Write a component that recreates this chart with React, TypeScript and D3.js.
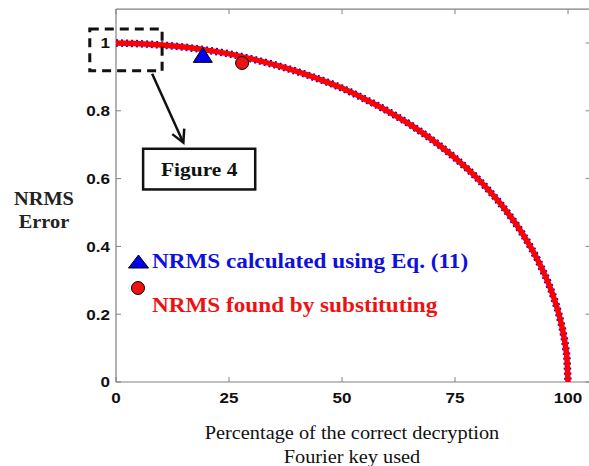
import React from "react";
import * as d3 from "d3";

// ---- data ----
const percentKey = [0, 5, 10, 15, 20, 25, 30, 35, 40, 45, 50, 55, 60, 65, 70, 75, 80, 85, 88, 90, 92, 94, 96, 97, 98, 99, 99.5, 99.8, 100];
const nrmsValues = [1.0, 0.998, 0.994, 0.988, 0.979, 0.968, 0.953, 0.936, 0.916, 0.893, 0.867, 0.835, 0.8, 0.76, 0.714, 0.661, 0.6, 0.527, 0.475, 0.436, 0.392, 0.341, 0.28, 0.243, 0.199, 0.141, 0.1, 0.063, 0.0];
const eqPoint = [19.2, 0.965]; // NRMS calculated using Eq. (11)
const subPoint = [27.9, 0.941]; // NRMS found by substituting
const xTicks = [0, 25, 50, 75, 100];
const yTicks = [0, 0.2, 0.4, 0.6, 0.8, 1];
const yTickLabels = ["0", "0.2", "0.4", "0.6", "0.8", "1"];
const legendLabels = ["NRMS calculated using Eq. (11)", "NRMS found by substituting"];
const xTitle = ["Percentage of the correct decryption", "Fourier key used"];
const yTitle = ["NRMS", "Error"];
const zoomBox = [-5.8, 10.2, 1.041, 0.918]; // x0, x1, y0, y1
const figBox = [6.0, 30.8, 0.688, 0.568];
const arrowFrom = [8.0, 0.909];
const arrowTo = [14.9, 0.706];

const W = 589;
const H = 466;

type TProps = {
  x: number;
  y: number;
  sx?: number;
  anchor?: string;
  family: string;
  size: number;
  weight?: string;
  fill: string;
  dy?: string;
  children: React.ReactNode;
};

function T({ x, y, sx = 1.14, anchor = "start", family, size, weight = "normal", fill, dy, children }: TProps) {
  return (
    <text
      transform={`translate(${x},${y}) scale(${sx},1)`}
      textAnchor={anchor}
      fontFamily={family}
      fontSize={size}
      fontWeight={weight}
      fill={fill}
      dy={dy}
    >
      {children}
    </text>
  );
}

export default function App() {
  const x = d3.scaleLinear().domain([0, 105]).range([116, 116 + 105 * 4.52]);
  const y = d3.scaleLinear().domain([0, 1.1]).range([382, 382 - 1.1 * 339]);
  const pts: [number, number][] = percentKey.map((p, i) => [p, nrmsValues[i]]);
  const line = d3
    .line<[number, number]>()
    .x((d) => x(d[0]))
    .y((d) => y(d[1]))
    .curve(d3.curveMonotoneX);
  const path = line(pts) || "";

  const axisColor = "#808080";
  const tickFont = "'Liberation Sans', Arial, sans-serif";
  const serif = "'Liberation Serif', 'Times New Roman', serif";

  const left = x(0);
  const right = x(105);
  const top = y(1.1);
  const bottom = y(0);

  const tri = (cx: number, cy: number, w: number, h: number) =>
    `M${cx - w / 2},${cy + h / 2} L${cx + w / 2},${cy + h / 2} L${cx},${cy - h / 2} Z`;

  // arrow
  const ax0 = x(arrowFrom[0]);
  const ay0 = y(arrowFrom[1]);
  const ax1 = x(arrowTo[0]);
  const ay1 = y(arrowTo[1]);
  const ang = Math.atan2(ay1 - ay0, ax1 - ax0);
  const hl = 14;
  const ha = (28 * Math.PI) / 180;
  const h1 = [ax1 - hl * Math.cos(ang - ha), ay1 - hl * Math.sin(ang - ha)];
  const h2 = [ax1 - hl * Math.cos(ang + ha), ay1 - hl * Math.sin(ang + ha)];

  return (
    <svg
      width={W}
      height={H}
      style={{ position: "absolute", left: 0, top: 0, display: "block", background: "#fff" }}
    >
      <rect x={0} y={0} width={W} height={H} fill="#fff" />
      {/* axes box */}
      <line x1={left} x2={left} y1={top} y2={bottom} stroke={axisColor} strokeWidth={1.2} />
      <line x1={left} x2={right} y1={bottom} y2={bottom} stroke={axisColor} strokeWidth={1.2} />
      <line x1={left} x2={right} y1={top} y2={top} stroke={axisColor} strokeWidth={1.2} />
      <line x1={right} x2={right} y1={top} y2={bottom} stroke={axisColor} strokeWidth={1.2} />
      {xTicks.map((t) => (
        <g key={"xt" + t}>
          <line x1={x(t)} x2={x(t)} y1={bottom} y2={bottom - 5} stroke={axisColor} />
          <line x1={x(t)} x2={x(t)} y1={top} y2={top + 5} stroke={axisColor} />
          <T x={x(t)} y={403} anchor="middle" family={tickFont} weight="bold" size={15.5} fill="#111" sx={1.1}>
            {t}
          </T>
        </g>
      ))}
      {yTicks.map((t, i) => (
        <g key={"yt" + t}>
          <line x1={left} x2={left + 5} y1={y(t)} y2={y(t)} stroke={axisColor} />
          <line x1={right} x2={right - 5} y1={y(t)} y2={y(t)} stroke={axisColor} />
          <T x={110} y={y(t)} dy="0.35em" anchor="end" family={tickFont} weight="bold" size={15.5} fill="#111" sx={1.1}>
            {yTickLabels[i]}
          </T>
        </g>
      ))}

      {/* curves */}
      <path d={path} fill="none" stroke="#0000ee" strokeWidth={7.5} strokeDasharray="2 3" />
      <path d={path} fill="none" stroke="#ff0000" strokeWidth={5.5} />

      {/* markers */}
      <path d={tri(x(eqPoint[0]), y(eqPoint[1]), 19, 15)} fill="#0000ee" stroke="#000" strokeWidth={1} />
      <circle cx={x(subPoint[0])} cy={y(subPoint[1])} r={6.5} fill="#ee1111" stroke="#000" strokeWidth={1} />

      {/* zoom box */}
      <rect
        x={x(zoomBox[0])}
        y={y(zoomBox[2])}
        width={x(zoomBox[1]) - x(zoomBox[0])}
        height={y(zoomBox[3]) - y(zoomBox[2])}
        fill="none"
        stroke="#111"
        strokeWidth={3}
        strokeDasharray="9 6"
      />
      {/* arrow */}
      <line x1={ax0} y1={ay0} x2={ax1} y2={ay1} stroke="#111" strokeWidth={2.5} />
      <polyline
        points={`${h1[0]},${h1[1]} ${ax1},${ay1} ${h2[0]},${h2[1]}`}
        fill="none"
        stroke="#111"
        strokeWidth={2.5}
      />
      {/* Figure 4 box */}
      <rect
        x={x(figBox[0])}
        y={y(figBox[2])}
        width={x(figBox[1]) - x(figBox[0])}
        height={y(figBox[3]) - y(figBox[2])}
        fill="#fff"
        stroke="#111"
        strokeWidth={2.5}
      />
      <T
        x={(x(figBox[0]) + x(figBox[1])) / 2}
        y={(y(figBox[2]) + y(figBox[3])) / 2}
        dy="0.35em"
        anchor="middle"
        family={serif}
        weight="bold"
        size={19}
        fill="#111"
        sx={1.13}
      >
        Figure 4
      </T>

      {/* legend */}
      <path d={tri(138.5, 261.5, 20, 13)} fill="#0000ee" stroke="#000" strokeWidth={1} />
      <T x={152} y={268} family={serif} weight="bold" size={20} fill="#1010dd" sx={1.16}>
        {legendLabels[0]}
      </T>
      <circle cx={138} cy={288} r={6.5} fill="#ee1111" stroke="#000" strokeWidth={1} />
      <T x={152} y={312} family={serif} weight="bold" size={20} fill="#ee1111" sx={1.16}>
        {legendLabels[1]}
      </T>

      {/* axis titles */}
      <T x={44} y={205} anchor="middle" family={serif} weight="bold" size={18} fill="#222" sx={1.13}>
        {yTitle[0]}
      </T>
      <T x={44} y={228} anchor="middle" family={serif} weight="bold" size={18} fill="#222" sx={1.13}>
        {yTitle[1]}
      </T>
      <T x={352} y={439} anchor="middle" family={serif} size={18} fill="#111" sx={1.13}>
        {xTitle[0]}
      </T>
      <T x={352} y={463} anchor="middle" family={serif} size={18} fill="#111" sx={1.13}>
        {xTitle[1]}
      </T>
    </svg>
  );
}
